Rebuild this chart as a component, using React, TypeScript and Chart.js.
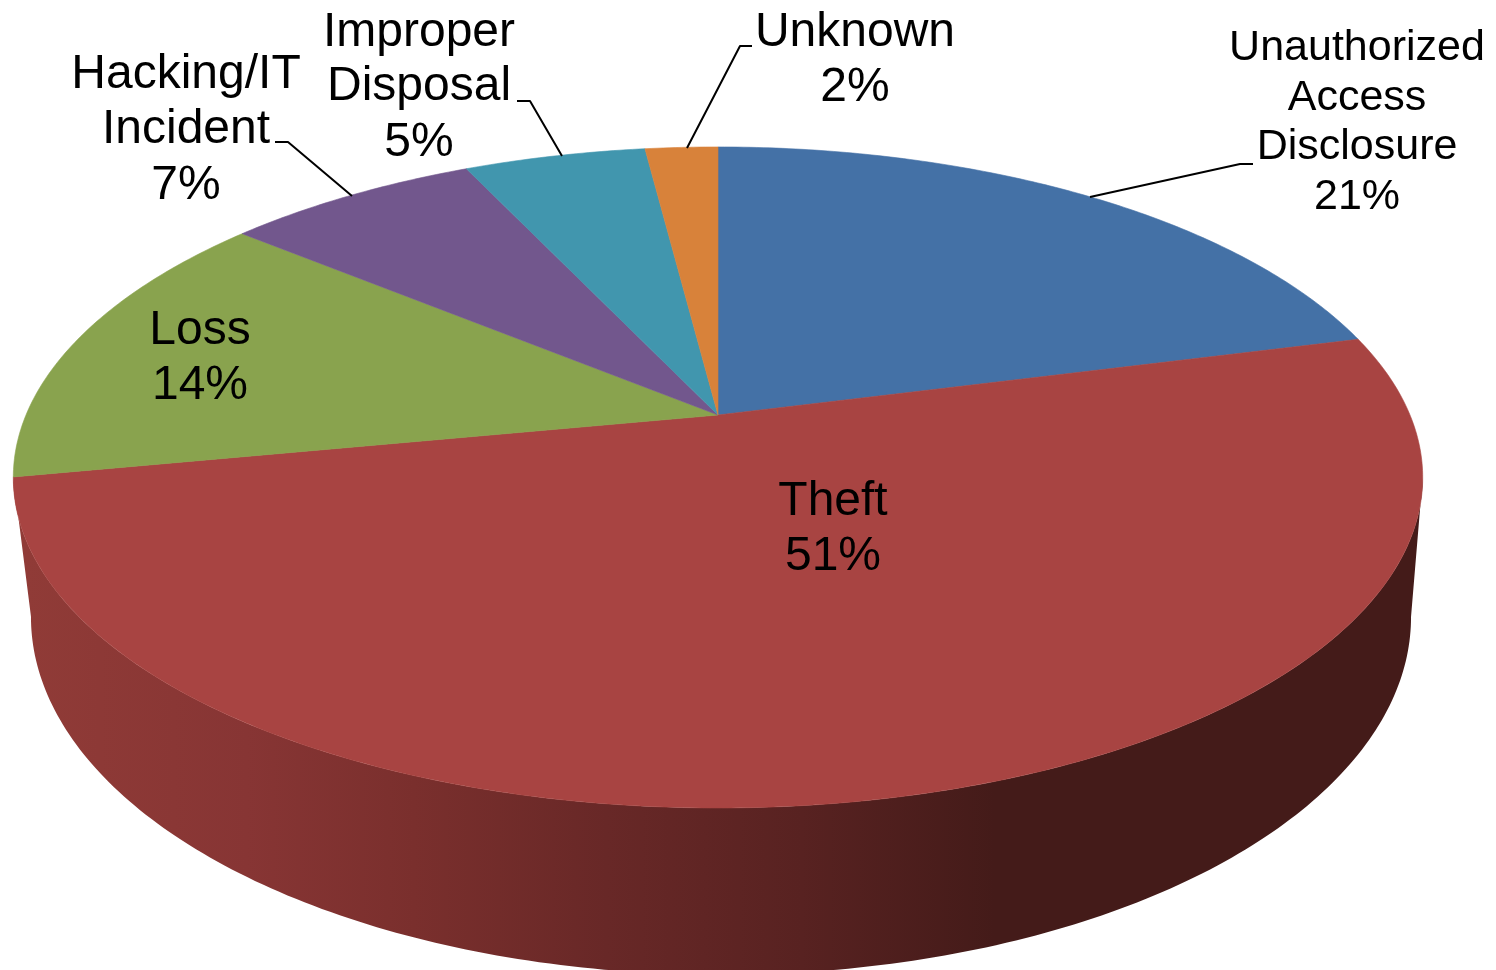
import { useEffect, useRef } from "react";
import { ArcElement, Chart, PieController, registerables } from "chart.js";

// Share of incidents by cause, clockwise from twelve o'clock.
const causeNames = [
  ["Unauthorized", "Access", "Disclosure"],
  ["Theft"],
  ["Loss"],
  ["Hacking/IT", "Incident"],
  ["Improper", "Disposal"],
  ["Unknown"],
];
const causeShares = [21, 51, 14, 7, 5, 2];
const sliceColors = ["#4471A6", "#A84442", "#89A34E", "#72578D", "#4196AE", "#D8823A"];

// Side wall shading, left to right across the disc.
const wallStops: [number, string][] = [
  [0.0, "#903B37"],
  [0.16, "#873534"],
  [0.28, "#7A2F2D"],
  [0.42, "#682827"],
  [0.56, "#582221"],
  [0.7, "#441B19"],
  [1.0, "#441B19"],
];

// Label placement: centre x and the baseline of each text line, with font size.
const labelPlacement = [
  { x: 1357, y: [60, 110, 159, 209], size: 43 },
  { x: 833, y: [515, 570], size: 48 },
  { x: 200, y: [344, 399], size: 48 },
  { x: 186, y: [88, 143, 199], size: 48 },
  { x: 419, y: [46, 100, 156], size: 48 },
  { x: 855, y: [46, 101], size: 48 },
];

// Leader lines from the labels down to their slices.
const leaderLines: [number, number][][] = [
  [[1253, 164], [1240, 164], [1090, 197]],
  [[275, 142], [288, 142], [352, 196]],
  [[517, 101], [530, 101], [562, 156]],
  [[752, 46], [740, 46], [687, 148]],
];

// Perspective of the tilted disc, relative to the arc's outer radius.
const TILT = -0.189;
const TOP_FACE = { sx: 692 / 415, sy: 318.7 / 415, dx: 0, dy: 0 };
const BOTTOM_FACE = { sx: 677.6 / 415, sy: 345 / 415, dx: 3 / 415, dy: 134.4 / 415 };

type Face = typeof TOP_FACE;

function project(arc: any, angle: number, face: Face): [number, number] {
  const u = Math.cos(angle);
  const v = Math.sin(angle);
  const w = 1 + TILT * v;
  const r = arc.outerRadius;
  return [arc.x + face.dx * r + (face.sx * r * u) / w, arc.y + face.dy * r + (face.sy * r * v) / w];
}

// A pie slice drawn on the perspective plane instead of a flat circle.
class TiltedArc extends ArcElement {
  static id = "tiltedArc";

  draw(ctx: CanvasRenderingContext2D) {
    const self = this as any;
    const { startAngle, endAngle, x, y } = self;
    const steps = Math.max(8, Math.ceil((endAngle - startAngle) * 90));
    ctx.save();
    ctx.beginPath();
    ctx.moveTo(x, y);
    for (let i = 0; i <= steps; i++) {
      const [px, py] = project(self, startAngle + ((endAngle - startAngle) * i) / steps, TOP_FACE);
      ctx.lineTo(px, py);
    }
    ctx.closePath();
    ctx.fillStyle = self.options.backgroundColor;
    ctx.strokeStyle = self.options.backgroundColor;
    ctx.lineWidth = 0.6;
    ctx.fill();
    ctx.stroke();
    ctx.restore();
  }
}

class TiltedPieController extends PieController {
  static id = "tiltedPie";
  static defaults = { dataElementType: "tiltedArc" };
}

Chart.register(...registerables, TiltedArc, TiltedPieController);

// Draws the visible rim of the disc beneath the slices.
const rimPlugin = {
  id: "rim",
  beforeDatasetsDraw(chart: any) {
    const { ctx } = chart;
    const arcs = chart.getDatasetMeta(0).data;
    const first = arcs[0];
    const halfWidth = first.outerRadius * TOP_FACE.sx;
    const gradient = ctx.createLinearGradient(first.x - halfWidth, 0, first.x + halfWidth, 0);
    wallStops.forEach(([at, color]) => gradient.addColorStop(at, color));
    for (const arc of arcs) {
      const samples: number[] = [];
      const steps = 240;
      for (let i = 0; i <= steps; i++) {
        const a = arc.startAngle + ((arc.endAngle - arc.startAngle) * i) / steps;
        if (Math.sin(a) > -TILT - 0.004) samples.push(a);
      }
      if (samples.length < 2) continue;
      ctx.save();
      ctx.beginPath();
      samples.forEach((a, i) => {
        const [px, py] = project(arc, a, TOP_FACE);
        if (i === 0) ctx.moveTo(px, py);
        else ctx.lineTo(px, py);
      });
      [...samples].reverse().forEach((a) => {
        const [px, py] = project(arc, a, BOTTOM_FACE);
        ctx.lineTo(px, py);
      });
      ctx.closePath();
      ctx.fillStyle = gradient;
      ctx.fill();
      ctx.restore();
    }
  },
};

// Leader lines and the category and percentage labels.
const labelPlugin = {
  id: "sliceLabels",
  afterDatasetsDraw(chart: any) {
    const { ctx } = chart;
    ctx.save();
    ctx.strokeStyle = "#000000";
    ctx.lineWidth = 2;
    ctx.lineJoin = "round";
    for (const line of leaderLines) {
      ctx.beginPath();
      line.forEach(([x, y], i) => (i === 0 ? ctx.moveTo(x, y) : ctx.lineTo(x, y)));
      ctx.stroke();
    }
    ctx.fillStyle = "#000000";
    ctx.textAlign = "center";
    ctx.textBaseline = "alphabetic";
    causeNames.forEach((lines, i) => {
      const place = labelPlacement[i];
      ctx.font = `${place.size}px "Liberation Sans", Arial, sans-serif`;
      [...lines, `${causeShares[i]}%`].forEach((text, row) => ctx.fillText(text, place.x, place.y[row]));
    });
    ctx.restore();
  },
};

export default function App() {
  const canvasRef = useRef<HTMLCanvasElement | null>(null);

  useEffect(() => {
    const chart = new Chart(canvasRef.current!, {
      type: "tiltedPie" as any,
      data: {
        labels: causeNames.map((lines) => lines.join(" ")),
        datasets: [{ data: causeShares, backgroundColor: sliceColors, borderWidth: 0 }],
      },
      options: {
        animation: false,
        responsive: false,
        events: [],
        layout: { padding: { left: 0, top: 0, right: 60, bottom: 140 } },
        plugins: { legend: { display: false }, tooltip: { enabled: false } },
      },
      plugins: [rimPlugin, labelPlugin],
    });
    return () => chart.destroy();
  }, []);

  return (
    <div style={{ position: "absolute", left: 0, top: 0, width: 1496, height: 970, background: "#ffffff", overflow: "hidden" }}>
      <canvas ref={canvasRef} width={1496} height={970} style={{ display: "block" }} />
    </div>
  );
}
